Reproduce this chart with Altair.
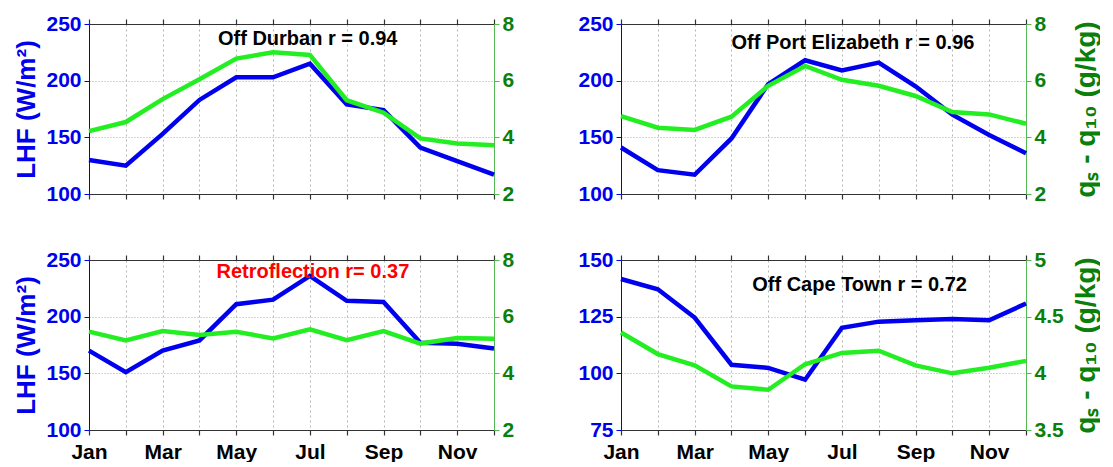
import altair as alt
import pandas as pd

months = list(range(1, 13))
month_names = ["Jan", "Feb", "Mar", "Apr", "May", "Jun", "Jul", "Aug", "Sep", "Oct", "Nov", "Dec"]
shown_months = ["Jan", "", "Mar", "", "May", "", "Jul", "", "Sep", "", "Nov", ""]

lhf_durban = [130, 125, 153, 183, 203, 203, 215, 179, 174, 141, 129, 117]
dq_durban = [4.22, 4.54, 5.35, 6.05, 6.78, 7.0, 6.91, 5.31, 4.87, 3.96, 3.78, 3.72]

lhf_pe = [141, 121, 117, 149, 197, 218, 209, 216, 195, 170, 152, 136]
dq_pe = [4.75, 4.34, 4.26, 4.73, 5.82, 6.52, 6.03, 5.82, 5.46, 4.89, 4.81, 4.48]

lhf_retro = [170, 151, 170, 179, 211, 215, 236, 214, 213, 177, 176, 172]
dq_retro = [5.47, 5.16, 5.49, 5.35, 5.47, 5.23, 5.55, 5.17, 5.49, 5.05, 5.25, 5.22]

lhf_cape = [141.6, 137.1, 124.6, 103.8, 102.4, 97.2, 120.1, 122.8, 123.4, 124.0, 123.4, 130.8]
dq_cape = [4.36, 4.17, 4.07, 3.885, 3.855, 4.08, 4.18, 4.20, 4.07, 4.0, 4.05, 4.11]

notes = ["Off Durban r = 0.94", "Off Port Elizabeth r = 0.96", "Retroflection r= 0.37", "Off Cape Town r = 0.72"]
note_colors = ["black", "black", "#ff0000", "black"]
note_month = [6.94, 7.3, 7.08, 7.48]
note_lhf = [237, 233, 239, 139]

BLUE = "#0000ee"
LGREEN = "#22ee22"
DGREEN = "#0a800a"
AXGREEN = "#55b855"
FONT = "Liberation Sans"

label_js = "[" + ",".join('"%s"' % m for m in shown_months) + "]"

W, H = 405, 170


def panel(lhf, dq, lhf_dom, lhf_ticks, dq_dom, dq_ticks, i, left_title, right_title, xlabels):
    df = pd.DataFrame({"month": months, "lhf": lhf, "dq": dq})
    ann = pd.DataFrame({"month": [note_month[i]], "lhf": [note_lhf[i]], "label": [notes[i]]})
    xs = alt.Scale(domain=[1, 12], nice=False, zero=False)

    bottom_axis = alt.Axis(
        orient="bottom", values=months, labelExpr=label_js + "[datum.value - 1]",
        labels=xlabels, grid=True, gridColor="#b5b5b5", gridDash=[2, 3], gridWidth=1,
        domainColor="#333333", tickColor="#333333", tickSize=5, tickWidth=1.2,
        labelFont=FONT, labelFontSize=21, labelFontWeight="bold", labelColor="black",
        labelPadding=6, title=None, labelFlush=False,
    )
    top_axis = alt.Axis(
        orient="top", values=months, labels=False, grid=False,
        domainColor="#333333", tickColor="#333333", tickSize=5, tickWidth=1.2, title=None,
    )
    left_axis = alt.Axis(
        orient="left", values=lhf_ticks, grid=True, gridColor="#a0a0ff", gridDash=[1, 2],
        domainColor=BLUE, tickColor=BLUE, tickSize=5, labelColor=BLUE,
        labelFont=FONT, labelFontSize=21, labelFontWeight="bold", labelPadding=3,
        title=left_title if left_title else "", titleColor=BLUE, titleFont=FONT,
        titleFontSize=26, titleFontWeight="bold", titlePadding=6,
    )
    right_axis = alt.Axis(
        orient="right", values=dq_ticks, grid=False, format="~g",
        domainColor=AXGREEN, tickColor=AXGREEN, tickSize=5, labelColor=DGREEN,
        labelFont=FONT, labelFontSize=21, labelFontWeight="bold", labelPadding=3,
        title=right_title if right_title else "", titleColor=DGREEN, titleFont=FONT,
        titleFontSize=28, titleFontWeight="bold", titleAngle=270,
        titleX=60, titleY=H / 2, titleBaseline="middle", titleAlign="center",
    )

    blue = alt.Chart(df).mark_line(color=BLUE, strokeWidth=4.5).encode(
        x=alt.X("month:Q", scale=xs, axis=bottom_axis),
        y=alt.Y("lhf:Q", scale=alt.Scale(domain=lhf_dom, nice=False, zero=False), axis=left_axis),
    )
    green = alt.Chart(df).mark_line(color=LGREEN, strokeWidth=4.5).encode(
        x=alt.X("month:Q", scale=xs, axis=top_axis),
        y=alt.Y("dq:Q", scale=alt.Scale(domain=dq_dom, nice=False, zero=False), axis=right_axis),
    )
    text = alt.Chart(ann).mark_text(
        font=FONT, fontSize=20, fontWeight="bold", color=note_colors[i], align="center", baseline="middle"
    ).encode(
        x=alt.X("month:Q", scale=xs, axis=None),
        y=alt.Y("lhf:Q", scale=alt.Scale(domain=lhf_dom, nice=False, zero=False), axis=None),
        text="label:N",
    )
    return (
        alt.layer(blue, green, text)
        .resolve_scale(y="independent")
        .resolve_axis(x="independent", y="independent")
        .properties(width=W, height=H)
    )


p1 = panel(lhf_durban, dq_durban, [100, 250], [100, 150, 200, 250], [2, 8], [2, 4, 6, 8], 0,
           "LHF (W/m²)", None, False)
p2 = panel(lhf_pe, dq_pe, [100, 250], [100, 150, 200, 250], [2, 8], [2, 4, 6, 8], 1,
           None, "qₛ - q₁₀ (g/kg)", False)
p3 = panel(lhf_retro, dq_retro, [100, 250], [100, 150, 200, 250], [2, 8], [2, 4, 6, 8], 2,
           "LHF (W/m²)", None, True)
p4 = panel(lhf_cape, dq_cape, [75, 150], [75, 100, 125, 150], [3.5, 5], [3.5, 4, 4.5, 5], 3,
           None, "qₛ - q₁₀ (g/kg)", True)

chart = (
    alt.concat(p1, p2, p3, p4, columns=2, spacing={"row": 66, "column": 127}, bounds="flush")
    .configure_view(stroke=None)
    .properties(padding={"left": 5, "top": 5, "right": 0, "bottom": 0}, background="white")
)

chart.save("out.html", embed_options={"renderer": "svg", "actions": False})
